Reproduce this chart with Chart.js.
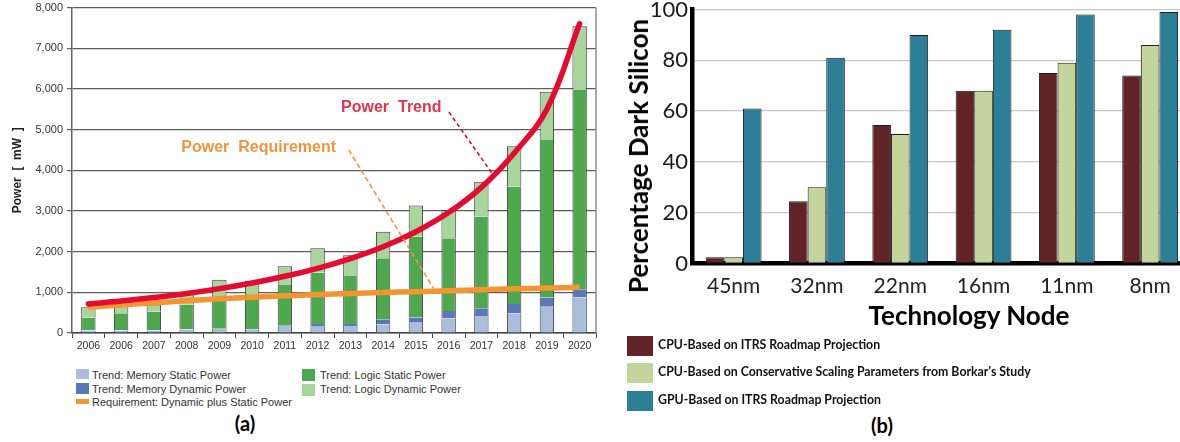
<!DOCTYPE html>
<html>
<head>
<meta charset="utf-8">
<script src="https://cdn.jsdelivr.net/npm/chart.js@4.4.1/dist/chart.umd.min.js"></script>
<style>
  html, body { margin: 0; padding: 0; background: #fff; }
  body { width: 1180px; height: 442px; overflow: hidden; position: relative; }
  canvas { position: absolute; }
  #powerChart { left: 0; top: 0; }
  #darkChart { left: 600px; top: 0; }
  .legA { position: absolute; font: 11px "Liberation Sans", Arial, sans-serif; color: #333; line-height: 13px; white-space: nowrap; }
  .legB { position: absolute; font: bold 12.3px Lato, sans-serif; color: #111; line-height: 16px; white-space: nowrap; }
  .sw { position: absolute; }
  .cap { position: absolute; font: bold 20px Lato, sans-serif; color: #000; transform: translate(-50%, -50%); white-space: nowrap; line-height: 1; }
  .axt { position: absolute; font: bold 26px Lato, sans-serif; color: #000; white-space: nowrap; line-height: 1; }
</style>
</head>
<body>
<canvas id="powerChart" width="600" height="360"></canvas>
<canvas id="darkChart" width="600" height="340"></canvas>
<div id="legendA"></div>
<div id="legendB"></div>
<div class="axt" style="left:638px;top:156px;transform:translate(-50%,-50%) rotate(-90deg)">Percentage Dark Silicon</div>
<div class="axt" style="left:969px;top:315px;transform:translate(-50%,-50%)">Technology Node</div>
<div class="cap" style="left:245px;top:423px">(a)</div>
<div class="cap" style="left:882px;top:425px">(b)</div>
<script>
// ---- (a) SoC power: trend vs. requirement (mW) ----
const years = ['2006', '2006', '2007', '2008', '2009', '2010', '2011', '2012',
               '2013', '2014', '2015', '2016', '2017', '2018', '2019', '2020'];
const memoryStatic  = [60, 60, 60, 85, 100, 95, 170, 155, 172, 218, 253, 361, 418, 484, 646, 877];
const memoryDynamic = [5, 5, 5, 5, 5, 5, 10, 66, 50, 119, 128, 179, 189, 229, 226, 200];
const logicStatic   = [311, 419, 458, 610, 765, 760, 1000, 1259, 1178, 1498, 1985, 1787, 2258, 2882, 3870, 4893];
const logicDynamic  = [254, 196, 177, 300, 440, 420, 460, 600, 510, 655, 769, 695, 850, 995, 1188, 1570];
const powerTrend       = [715, 785, 870, 970, 1090, 1230, 1395, 1590, 1830, 2120, 2490, 2960, 3580, 4420, 5500, 7600];
const powerRequirement = [630, 690, 740, 790, 840, 880, 915, 945, 970, 995, 1015, 1040, 1065, 1085, 1105, 1125];
const powerAxis = [0, 8000, 1000];   // min, max, step
const seriesA = ['Trend: Memory Static Power', 'Trend: Memory Dynamic Power',
                 'Trend: Logic Static Power', 'Trend: Logic Dynamic Power',
                 'Requirement: Dynamic plus Static Power'];

// ---- (b) dark silicon per technology node (%) ----
const nodes = ['45nm', '32nm', '22nm', '16nm', '11nm', '8nm'];
const cpuItrs   = [2.5, 24.5, 54.5, 68, 75, 74];
const cpuBorkar = [2.5, 30, 51, 68, 79, 86];
const gpuItrs   = [61, 81, 90, 92, 98, 99];
const darkAxis = [0, 100, 10];      // min, max, step (labels every 20)
const seriesB = ['CPU-Based on ITRS Roadmap Projection',
                 "CPU-Based on Conservative Scaling Parameters from Borkar's Study",
                 'GPU-Based on ITRS Roadmap Projection'];

const colA = { memS: '#a9bddc', memD: '#5878b8', logS: '#4ea84e', logD: '#a8d59b', trend: '#e50a30', req: '#f39632' };
const colB = ['#622326', '#c3d59c', '#2c7f97'];

const sideBorders = { left: 1, right: 1, top: 0, bottom: 0 };
const capBorders  = { left: 1, right: 1, top: 1, bottom: 0 };

function fixWidth(w) { return s => { s.width = w; s.paddingTop = 0; s.paddingBottom = 0; }; }
function fixHeight(h) { return s => { s.height = h; s.paddingLeft = 0; s.paddingRight = 0; }; }

// Right-hand frame line of the power plot
const framePlugin = {
  id: 'frame',
  beforeDatasetsDraw(chart) {
    const { ctx, chartArea: a } = chart;
    ctx.save();
    ctx.strokeStyle = '#8c8c8c';
    ctx.lineWidth = 1.5;
    ctx.beginPath();
    ctx.moveTo(a.right, a.top);
    ctx.lineTo(a.right, a.bottom);
    ctx.stroke();
    ctx.restore();
  }
};

// Labelled dashed leader lines pointing at the two curves
const callouts = [
  { text: 'Power  Trend', color: '#e3344b', line: '#c81535', dash: [4, 3], at: [9.25, 5530], from: [11.01, 5430], to: [12.32, 3930] },
  { text: 'Power  Requirement', color: '#f0953f', line: '#f0953f', dash: [5, 3], at: [5.2, 4545], from: [7.95, 4500], to: [10.54, 1098] }
];
const calloutPlugin = {
  id: 'callouts',
  afterDatasetsDraw(chart) {
    const { ctx, scales: { x, y } } = chart;
    ctx.save();
    callouts.forEach(c => {
      ctx.setLineDash(c.dash);
      ctx.strokeStyle = c.line;
      ctx.lineWidth = 1.6;
      ctx.beginPath();
      ctx.moveTo(x.getPixelForValue(c.from[0]), y.getPixelForValue(c.from[1]));
      ctx.lineTo(x.getPixelForValue(c.to[0]), y.getPixelForValue(c.to[1]));
      ctx.stroke();
      ctx.setLineDash([]);
      ctx.fillStyle = c.color;
      ctx.font = 'bold 16px "Liberation Sans", Arial, sans-serif';
      ctx.textAlign = 'center';
      ctx.textBaseline = 'middle';
      ctx.fillText(c.text, x.getPixelForValue(c.at[0]), y.getPixelForValue(c.at[1]));
    });
    ctx.restore();
  }
};

const barA = (label, data, color, borders) => ({
  type: 'bar', label, data, backgroundColor: color, borderColor: '#3f3f3f',
  borderWidth: borders, borderSkipped: false, stack: 'power', order: 2,
  barPercentage: 0.44, categoryPercentage: 1.0
});

new Chart(document.getElementById('powerChart'), {
  data: {
    labels: years,
    datasets: [
      barA(seriesA[0], memoryStatic, colA.memS, sideBorders),
      barA(seriesA[1], memoryDynamic, colA.memD, sideBorders),
      barA(seriesA[2], logicStatic, colA.logS, sideBorders),
      barA(seriesA[3], logicDynamic, colA.logD, capBorders),
      { type: 'line', label: 'Power Trend', data: powerTrend, borderColor: colA.trend, borderWidth: 5.5,
        pointRadius: 0, tension: 0.4, fill: false, stack: 'trend', order: 0, borderCapStyle: 'round' },
      { type: 'line', label: seriesA[4], data: powerRequirement, borderColor: colA.req, borderWidth: 5.5,
        pointRadius: 0, tension: 0.4, fill: false, stack: 'req', order: 1 }
    ]
  },
  options: {
    responsive: false, animation: false, events: [],
    layout: { padding: { top: 7.5, right: 4, bottom: 0, left: 0 } },
    plugins: { legend: { display: false }, tooltip: { enabled: false } },
    scales: {
      x: {
        stacked: true, offset: true,
        grid: { display: true, drawOnChartArea: false, drawTicks: true, tickLength: 5, color: '#444', offset: true },
        border: { display: true, color: '#444', width: 1.5 },
        ticks: { color: '#333', font: { family: '"Liberation Sans", Arial, sans-serif', size: 10.5 }, padding: 2, maxRotation: 0, autoSkip: false },
        afterFit: fixHeight(360 - 333)
      },
      y: {
        stacked: true, min: powerAxis[0], max: powerAxis[1],
        grid: { color: '#5e5e5e', lineWidth: 1.2, drawTicks: true, tickLength: 5 },
        border: { display: true, color: '#666', width: 1.5 },
        ticks: { stepSize: powerAxis[2], color: '#333', font: { family: '"Liberation Sans", Arial, sans-serif', size: 11 }, padding: 4 },
        title: { display: true, text: 'Power  [  mW  ]', color: '#222', padding: { top: 10, bottom: 0 },
                 font: { family: '"Liberation Sans", Arial, sans-serif', size: 12, weight: 'bold' } },
        afterFit: fixWidth(72)
      }
    }
  },
  plugins: [framePlugin, calloutPlugin]
});

const barB = (label, data, color) => ({
  label, data, backgroundColor: color, borderColor: '#1e1e1e', borderWidth: 1,
  borderSkipped: 'start', barPercentage: 1.0, categoryPercentage: 0.67
});

new Chart(document.getElementById('darkChart'), {
  type: 'bar',
  data: {
    labels: nodes,
    datasets: [
      barB(seriesB[0], cpuItrs, colB[0]),
      barB(seriesB[1], cpuBorkar, colB[1]),
      barB(seriesB[2], gpuItrs, colB[2])
    ]
  },
  options: {
    responsive: false, animation: false, events: [],
    layout: { padding: { top: 9.5, right: 8.2, bottom: 0, left: 0 } },
    plugins: { legend: { display: false }, tooltip: { enabled: false } },
    scales: {
      x: {
        z: 1,
        grid: { display: false },
        border: { display: true, color: '#000', width: 4.5 },
        ticks: { color: '#222', font: { family: 'Lato, sans-serif', size: 21 }, padding: 2, maxRotation: 0 },
        afterFit: fixHeight(340 - 263.5)
      },
      y: {
        min: darkAxis[0], max: darkAxis[1],
        grid: { color: '#c8c8c8', lineWidth: 1.3, drawTicks: false },
        border: { display: true, color: '#000', width: 4.5 },
        ticks: { stepSize: darkAxis[2], color: '#1a1a1a', padding: 4,
                 font: { family: 'Lato, sans-serif', size: 22 },
                 callback: v => (v % 20 === 0 ? String(v) : '') },
        afterFit: fixWidth(92)
      }
    }
  }
});

// ---- HTML legends, built from the series names ----
function addSwatch(parent, x, y, w, h, color) {
  const d = document.createElement('div');
  d.className = 'sw';
  Object.assign(d.style, { left: x + 'px', top: y + 'px', width: w + 'px', height: h + 'px', background: color });
  parent.appendChild(d);
}
function addText(parent, cls, x, yc, text, lh) {
  const d = document.createElement('div');
  d.className = cls;
  d.textContent = text;
  Object.assign(d.style, { left: x + 'px', top: (yc - lh / 2) + 'px' });
  parent.appendChild(d);
}

const legA = document.getElementById('legendA');
[
  { name: seriesA[0], color: colA.memS, sw: [76, 369, 13, 10], tx: [92, 375] },
  { name: seriesA[1], color: colA.memD, sw: [76, 383, 13, 11], tx: [92, 389] },
  { name: seriesA[4], color: colA.req,  sw: [76, 399, 13, 5],  tx: [92, 402] },
  { name: seriesA[2], color: colA.logS, sw: [302, 369, 13, 12], tx: [320, 375] },
  { name: seriesA[3], color: colA.logD, sw: [302, 384, 13, 12], tx: [320, 389] }
].forEach(it => {
  addSwatch(legA, it.sw[0], it.sw[1], it.sw[2], it.sw[3], it.color);
  addText(legA, 'legA', it.tx[0], it.tx[1], it.name, 13);
});

const legB = document.getElementById('legendB');
[336, 363, 391].forEach((top, i) => {
  addSwatch(legB, 627, top, 26, 20, colB[i]);
  addText(legB, 'legB', 658, top + 9, seriesB[i], 16);
});
</script>
</body>
</html>
